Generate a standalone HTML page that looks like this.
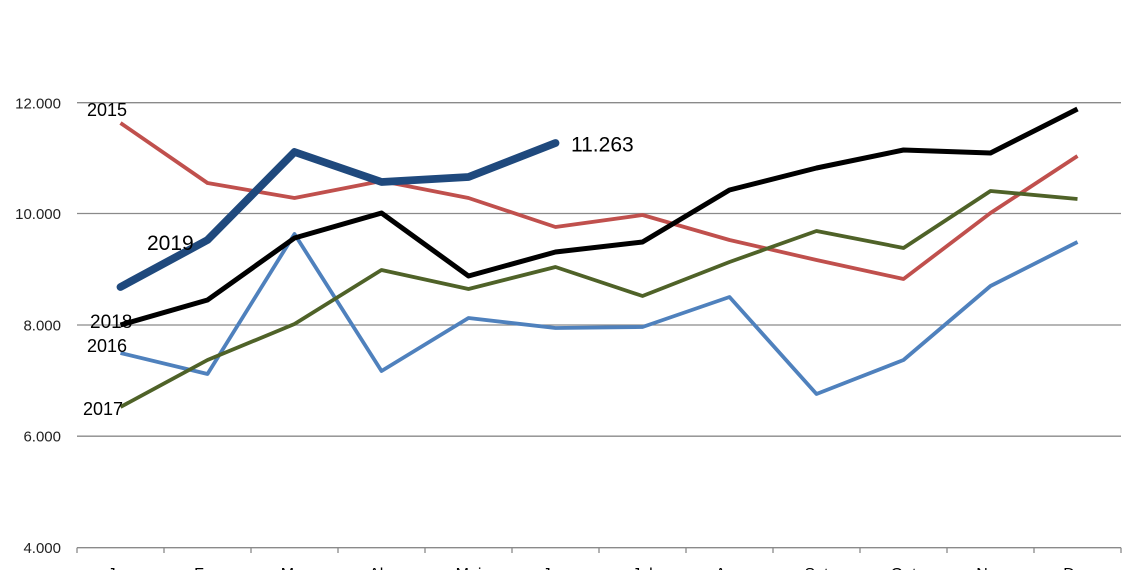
<!DOCTYPE html>
<html>
<head>
<meta charset="utf-8">
<style>
  html, body { margin: 0; padding: 0; background: #ffffff; }
  body { width: 1140px; height: 570px; overflow: hidden; }
  svg { display: block; }
  text { font-family: "Liberation Sans", "DejaVu Sans", sans-serif; }
</style>
</head>
<body>
<svg width="1140" height="570" viewBox="0 0 1140 570" xmlns="http://www.w3.org/2000/svg">
  <rect x="0" y="0" width="1140" height="570" fill="#ffffff"/>

  <!-- gridlines -->
  <g stroke="#8a8a8a" stroke-width="1.3" fill="none">
    <line x1="77" y1="102.7" x2="1121" y2="102.7"/>
    <line x1="77" y1="213.5" x2="1121" y2="213.5"/>
    <line x1="77" y1="325" x2="1121" y2="325"/>
    <line x1="77" y1="436.2" x2="1121" y2="436.2"/>
    <line x1="77" y1="547.7" x2="1121" y2="547.7"/>
  </g>
  <!-- ticks -->
  <g stroke="#8a8a8a" stroke-width="1.3">
    <line x1="77" y1="547.7" x2="77" y2="553"/>
    <line x1="164" y1="547.7" x2="164" y2="553"/>
    <line x1="251" y1="547.7" x2="251" y2="553"/>
    <line x1="338" y1="547.7" x2="338" y2="553"/>
    <line x1="425" y1="547.7" x2="425" y2="553"/>
    <line x1="512" y1="547.7" x2="512" y2="553"/>
    <line x1="599" y1="547.7" x2="599" y2="553"/>
    <line x1="686" y1="547.7" x2="686" y2="553"/>
    <line x1="773" y1="547.7" x2="773" y2="553"/>
    <line x1="860" y1="547.7" x2="860" y2="553"/>
    <line x1="947" y1="547.7" x2="947" y2="553"/>
    <line x1="1034" y1="547.7" x2="1034" y2="553"/>
    <line x1="1121" y1="547.7" x2="1121" y2="553"/>
  </g>

  <!-- y axis labels -->
  <g fill="#222" font-size="15" text-anchor="end">
    <text x="61" y="108.5">12.000</text>
    <text x="61" y="219">10.000</text>
    <text x="61" y="330.5">8.000</text>
    <text x="61" y="441.5">6.000</text>
    <text x="61" y="553">4.000</text>
  </g>

  <!-- x axis labels (mostly cut off) -->
  <g fill="#000" font-size="16" text-anchor="middle">
    <text x="120.5" y="579">Jan</text>
    <text x="207.5" y="579">Fev</text>
    <text x="294.5" y="579">Mar</text>
    <text x="381.5" y="579">Abr</text>
    <text x="468.5" y="579">Mai</text>
    <text x="555.5" y="579">Jun</text>
    <text x="642.5" y="579">Jul</text>
    <text x="729.5" y="579">Ago</text>
    <text x="816.5" y="579">Set</text>
    <text x="903.5" y="579">Out</text>
    <text x="990.5" y="579">Nov</text>
    <text x="1077.5" y="579">Dez</text>
  </g>

  <!-- series -->
  <g fill="none" stroke-linejoin="round">
    <!-- 2015 -->
    <polyline stroke="#C0504D" stroke-width="3.8"
      points="120.5,123 207.5,183 294.5,198 381.5,181 468.5,198 555.5,227 642.5,215 729.5,240 816.5,260 903.5,279 990.5,213 1077.5,156"/>
    <!-- 2016 -->
    <polyline stroke="#4F81BD" stroke-width="3.8"
      points="120.5,353 207.5,374 294.5,234 381.5,371 468.5,318 555.5,328 642.5,327 729.5,297 816.5,394 903.5,360 990.5,286 1077.5,242"/>
    <!-- 2017 -->
    <polyline stroke="#4F6228" stroke-width="3.8"
      points="120.5,407 207.5,360 294.5,324 381.5,270 468.5,289 555.5,267 642.5,296 729.5,262 816.5,231 903.5,248 990.5,191 1077.5,199"/>
    <!-- 2018 -->
    <polyline stroke="#000000" stroke-width="5"
      points="120.5,325 207.5,300 294.5,238 381.5,213 468.5,276 555.5,252 642.5,242 729.5,190 816.5,168 903.5,150 990.5,153 1077.5,109"/>
    <!-- 2019 -->
    <polyline stroke="#1F497D" stroke-width="7.8" stroke-linecap="round"
      points="120.5,287 207.5,240 294.5,152 381.5,182 468.5,177 555.5,143"/>
  </g>

  <!-- series labels -->
  <g fill="#000">
    <text x="87" y="116" font-size="18">2015</text>
    <text x="147" y="250" font-size="21">2019</text>
    <text x="90" y="328" font-size="19">2018</text>
    <text x="87" y="352" font-size="18">2016</text>
    <text x="83" y="415" font-size="18">2017</text>
    <text x="571" y="151.5" font-size="21">11.263</text>
  </g>
</svg>
</body>
</html>
